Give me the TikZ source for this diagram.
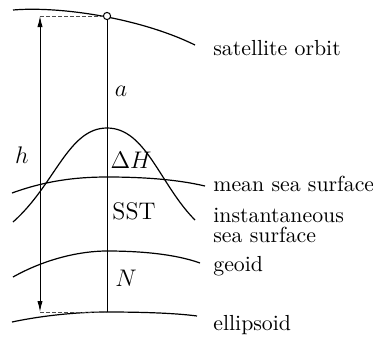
\documentclass[tikz,border=0pt]{standalone}
\usepackage{tikz}
\usetikzlibrary{calc,arrows.meta,positioning}
\tikzset{
surface/.style={line width=0.6pt},
guide/.style={dashed, line width=0.35pt, color=black!70, dash pattern=on 2pt off 1pt},
sat_dot/.style={circle, draw, line width=0.5pt, fill=white, inner sep=0pt, minimum size=3.6pt},
label_text/.style={anchor=west, inner sep=0pt, align=left, font=\fontsize{10.9}{12}\selectfont},
sym/.style={inner sep=0pt, font=\large}
}

\begin{document}
\begin{tikzpicture}[x=0.5pt, y=-0.5pt]
    \useasboundingbox (0,0) rectangle (373,337);
    % surfaces
    \draw[surface] (13,10) .. controls (60,6) and (140,18) .. (195,45);
    \draw[surface] (12,193) .. controls (45,181) and (75,177) .. (107,177) .. controls (140,177) and (175,179) .. (205,186);
    \draw[surface] (13,222) .. controls (55,185) and (68,128) .. (107,128) .. controls (146,128) and (160,185) .. (195,220);
    \draw[surface] (13,277) .. controls (45,259) and (80,251) .. (107,251) .. controls (140,251) and (175,254) .. (200,263);
    \draw[surface] (12,322) .. controls (45,315) and (80,312) .. (107,312) .. controls (140,312) and (175,313) .. (197,316);
    % vertical through satellite
    \coordinate (ell) at (107,312);
    \coordinate (h_top) at (40,16);
    \coordinate (h_bot) at (40,312);
    \draw[line width=0.5pt] (ell) -- (107,16);
    \node[sat_dot] (sat) at (107,16) {};
    \draw[guide] (h_top) -- (sat.west);
    \draw[guide] (h_bot) -- (ell);
    \draw[line width=0.5pt, {Latex[length=5.5pt,width=2.6pt]}-{Latex[length=5.5pt,width=2.6pt]}] (h_top) -- (h_bot);
    % symbols
    \node[sym] (h) at (22,155) {$h$};
    \node[sym] (a) at (121,91) {$a$};
    \node[sym] (dH) at (131,160) {$\Delta H$};
    \node[sym] (sst) at (134,211) {SST};
    \node[sym] (N) at (126,278) {$N$};
    % names
    \node[label_text] (orbit) at (213,48) {satellite orbit};
    \node[label_text] (mss) at (213,184) {mean sea surface};
    \node[label_text] (iss) at (213,225) {instantaneous\\[-2pt]sea surface};
    \node[label_text] (geoid) at (213,266) {geoid};
    \node[label_text] (ellipsoid) at (213,325) {ellipsoid};
\end{tikzpicture}
\end{document}
